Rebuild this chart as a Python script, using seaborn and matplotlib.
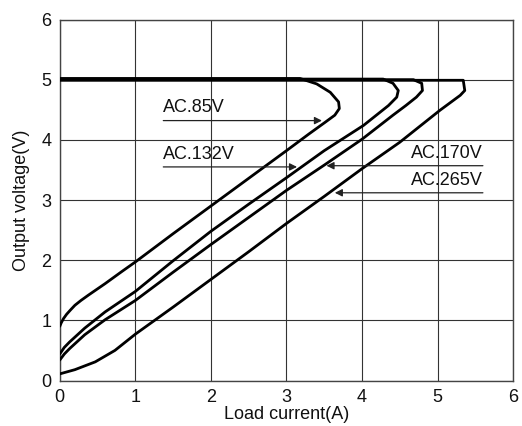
import matplotlib
matplotlib.use("Agg")
import matplotlib.pyplot as plt
import seaborn as sns
import pandas as pd

# Output voltage vs. load current (fold-back characteristic) for four AC inputs.
# Each path runs from the short-circuit end up the fold-back branch, around the
# knee and back along the regulated 5 V line.
cur_85 = [0.0, 0.02, 0.05, 0.09, 0.14, 0.2, 0.28, 0.38, 0.6, 0.82, 1.0, 1.5, 2.0, 2.5, 3.0,
          3.3, 3.51, 3.64, 3.70, 3.69, 3.58, 3.40, 3.18, 0.0]
volt_85 = [0.90, 0.96, 1.03, 1.10, 1.17, 1.25, 1.33, 1.42, 1.61, 1.81, 1.97, 2.44, 2.90, 3.36, 3.82,
           4.10, 4.29, 4.41, 4.52, 4.63, 4.79, 4.93, 5.02, 5.02]

cur_132 = [0.0, 0.06, 0.13, 0.33, 0.6, 1.0, 1.5, 2.0, 2.5, 3.0,
           3.5, 4.02, 4.35, 4.46, 4.48, 4.41, 4.28, 0.0]
volt_132 = [0.44, 0.55, 0.64, 0.87, 1.14, 1.48, 1.99, 2.48, 2.93, 3.37,
            3.82, 4.24, 4.57, 4.71, 4.82, 4.94, 5.01, 5.01]

cur_170 = [0.0, 0.06, 0.13, 0.33, 0.6, 1.0, 1.5, 2.0, 2.5, 3.0,
           3.5, 4.0, 4.41, 4.58, 4.72, 4.80, 4.79, 4.68, 0.0]
volt_170 = [0.34, 0.44, 0.53, 0.76, 1.01, 1.33, 1.80, 2.26, 2.71, 3.16,
            3.58, 4.01, 4.41, 4.57, 4.71, 4.82, 4.94, 5.00, 5.00]

cur_265 = [0.0, 0.2, 0.47, 0.73, 1.0, 1.5, 2.0, 2.5, 3.0, 3.5, 4.0,
           4.5, 5.03, 5.30, 5.36, 5.34, 0.0]
volt_265 = [0.11, 0.18, 0.31, 0.50, 0.77, 1.22, 1.68, 2.14, 2.61, 3.06, 3.52,
            3.96, 4.49, 4.74, 4.82, 4.99, 4.99]

series_names = ["AC.85V", "AC.132V", "AC.170V", "AC.265V"]
axis_ticks = [0, 1, 2, 3, 4, 5, 6]

# label text, underline start x, arrow tip (x, y), horizontal alignment
label_text = ["AC.85V", "AC.132V", "AC.170V", "AC.265V"]
label_start_x = [1.37, 1.37, 5.6, 5.6]
label_tip_x = [3.47, 3.14, 3.53, 3.64]
label_tip_y = [4.32, 3.55, 3.57, 3.12]
label_align = ["left", "left", "right", "right"]

frames = []
for name, xs, ys in zip(series_names,
                        [cur_85, cur_132, cur_170, cur_265],
                        [volt_85, volt_132, volt_170, volt_265]):
    frames.append(pd.DataFrame({"current": xs, "voltage": ys, "input": name}))
df = pd.concat(frames, ignore_index=True)

sns.set_theme(style="white")
plt.rcParams["font.family"] = ["Liberation Sans", "DejaVu Sans"]

fig = plt.figure(figsize=(5.22, 4.26), dpi=100)
ax = fig.add_axes([0.1145, 0.1068, 0.8685, 0.8474])

sns.lineplot(data=df, x="current", y="voltage", hue="input", units="input",
             estimator=None, sort=False, palette=["black"] * 4,
             linewidth=2.0, legend=False, ax=ax, zorder=3)
for line in ax.get_lines():
    line.set_solid_joinstyle("round")
    line.set_solid_capstyle("round")

ax.set_xlim(0, 6)
ax.set_ylim(0, 6)
ax.set_xticks(axis_ticks)
ax.set_yticks(axis_ticks)
ax.set_xticklabels([str(t) for t in axis_ticks])
ax.set_yticklabels([str(t) for t in axis_ticks])
ax.tick_params(axis="both", length=0, pad=6, labelsize=13, colors="#111111")
ax.grid(True, color="#333333", linewidth=0.8)
for sp in ax.spines.values():
    sp.set_color("#444444")
    sp.set_linewidth(1.0)

ax.set_xlabel("Load current(A)", fontsize=13, color="#111111", labelpad=0)
ax.set_ylabel("Output voltage(V)", fontsize=13, color="#111111", labelpad=8)

# Callout labels: underlined text with an arrow pointing at its curve
for txt, x0, tx, ty, ha in zip(label_text, label_start_x, label_tip_x,
                               label_tip_y, label_align):
    ax.annotate("", xy=(tx, ty), xytext=(x0, ty),
                arrowprops=dict(arrowstyle="-|>", color="#222222", lw=0.9,
                                mutation_scale=11, shrinkA=0, shrinkB=0),
                zorder=4)
    ax.text(x0, ty + 0.07, txt, ha=ha, va="bottom", fontsize=13,
            color="#111111", zorder=4)

fig.savefig("out.png", dpi=100)
